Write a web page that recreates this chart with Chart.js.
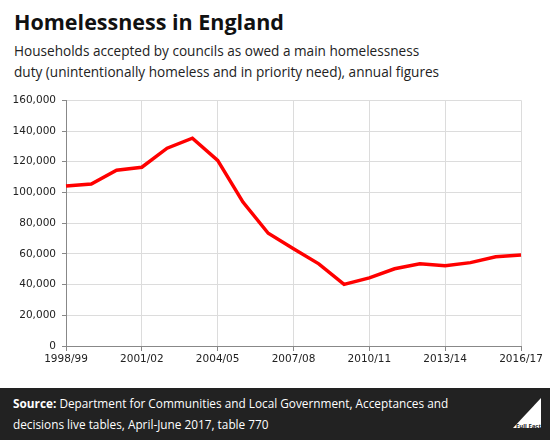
<!DOCTYPE html>
<html>
<head>
<meta charset="utf-8">
<script src="https://cdn.jsdelivr.net/npm/chart.js@4"></script>
<style>
  body { margin: 0; width: 550px; height: 440px; background: #fff; position: relative; overflow: hidden; font-family: "Open Sans", sans-serif; }
  #title { position: absolute; left: 14px; top: 7px; font-size: 21.5px; font-weight: bold; color: #111; }
  #sub { position: absolute; left: 14px; top: 40px; font-size: 13.6px; line-height: 21px; color: #222; }
  #wrap { position: absolute; left: 0; top: 88px; width: 550px; height: 292px; }
  #foot { position: absolute; left: 0; top: 388px; width: 550px; height: 52px; background: #222; color: #fff; }
  #foot p { margin: 0; position: absolute; left: 13px; top: 5px; font-size: 11.8px; line-height: 21px; }
  #logo { position: absolute; right: 9px; top: 10px; width: 0; height: 0; border-left: 28px solid transparent; border-bottom: 30px solid #fff; }
  #logoTxt { position: absolute; right: 9px; top: 34px; font-size: 6px; color: #222; font-weight: bold; }
</style>
</head>
<body>
<div id="title">Homelessness in England</div>
<div id="sub">Households accepted by councils as owed a main homelessness<br>duty (unintentionally homeless and in priority need), annual figures</div>
<div id="wrap"><canvas id="chart"></canvas></div>
<div id="foot">
  <p><b>Source:</b> Department for Communities and Local Government, Acceptances and<br>decisions live tables, April-June 2017, table 770</p>
  <div id="logo"></div><div id="logoTxt">Full Fact</div>
</div>
<script>
const years = ['1998/99','1999/00','2000/01','2001/02','2002/03','2003/04','2004/05','2005/06','2006/07','2007/08',
  '2008/09','2009/10','2010/11','2011/12','2012/13','2013/14','2014/15','2015/16','2016/17'];
const households = [104200, 105500, 114500, 116400, 128800, 135300, 120900, 93700, 73400, 63300,
  53500, 40100, 44400, 50300, 53600, 52300, 54300, 58100, 59300];
const yTicks = [0, 20000, 40000, 60000, 80000, 100000, 120000, 140000, 160000];

const everyThird = i => i % 3 === 0;

new Chart(document.getElementById('chart'), {
  type: 'line',
  data: {
    labels: years,
    datasets: [{ data: households, borderColor: '#ff0000', borderWidth: 3.5, pointRadius: 0, tension: 0, fill: false }]
  },
  options: {
    responsive: true,
    maintainAspectRatio: false,
    animation: false,
    layout: { padding: { left: 0, right: 29, top: 7, bottom: 0 } },
    plugins: { legend: { display: false }, tooltip: { enabled: false } },
    scales: {
      x: {
        offset: false,
        border: { color: '#888', width: 1 },
        grid: {
          color: c => everyThird(c.index) ? '#dcdcdc' : 'rgba(0,0,0,0)',
          tickColor: c => everyThird(c.index) ? '#888' : 'rgba(0,0,0,0)',
          tickLength: 5
        },
        ticks: {
          autoSkip: false, maxRotation: 0, padding: 2,
          color: '#222', font: { family: 'DejaVu Sans', size: 10.5 },
          callback: (v, i) => everyThird(i) ? years[i] : ''
        },
        afterFit: s => { s.height = 34; }
      },
      y: {
        min: 0, max: 160000,
        border: { color: '#888', width: 1 },
        grid: { color: '#dcdcdc', tickColor: '#888', tickLength: 4 },
        afterBuildTicks: s => { s.ticks = yTicks.map(v => ({ value: v })); },
        ticks: {
          padding: 6, color: '#222', font: { family: 'DejaVu Sans', size: 10.5 },
          callback: v => v.toLocaleString('en-GB')
        },
        afterFit: s => { s.width = 66; }
      }
    }
  }
});
</script>
</body>
</html>
